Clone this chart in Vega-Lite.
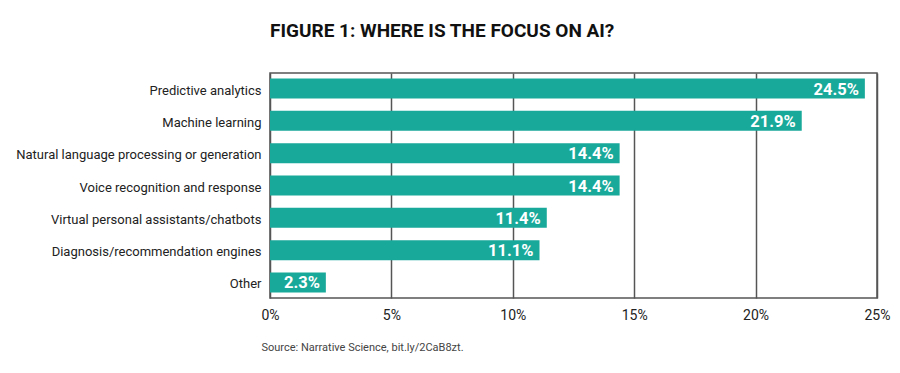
{
  "$schema": "https://vega.github.io/schema/vega-lite/v6.json",
  "autosize": {"type": "none"},
  "padding": {"left": 270, "top": 73, "right": 23, "bottom": 75},
  "width": 607,
  "height": 225,
  "background": "white",
  "title": {
    "text": "FIGURE 1: WHERE IS THE FOCUS ON AI?",
    "anchor": "start",
    "frame": "group",
    "font": "Roboto",
    "fontWeight": "bold",
    "fontSize": 19,
    "color": "#111111",
    "offset": 32
  },
  "data": {
    "values": [
      {"category": "Predictive analytics", "value": 24.5, "label": "24.5%"},
      {"category": "Machine learning", "value": 21.9, "label": "21.9%"},
      {"category": "Natural language processing or generation", "value": 14.4, "label": "14.4%"},
      {"category": "Voice recognition and response", "value": 14.4, "label": "14.4%"},
      {"category": "Virtual personal assistants/chatbots", "value": 11.4, "label": "11.4%"},
      {"category": "Diagnosis/recommendation engines", "value": 11.1, "label": "11.1%"},
      {"category": "Other", "value": 2.3, "label": "2.3%"}
    ]
  },
  "config": {
    "view": {"stroke": "#555555", "strokeWidth": 1.5},
    "font": "Roboto"
  },
  "encoding": {
    "y": {
      "field": "category",
      "type": "nominal",
      "sort": null,
      "scale": {"paddingInner": 0.38, "paddingOuter": 0.17},
      "axis": {
        "title": null,
        "domain": false,
        "ticks": false,
        "labelPadding": 9,
        "labelOffset": 2,
        "labelFontSize": 13,
        "labelColor": "#222222",
        "labelFont": "Roboto",
        "labelLimit": 300
      }
    },
    "x": {
      "field": "value",
      "type": "quantitative",
      "scale": {"domain": [0, 25], "nice": false, "zero": true},
      "axis": {
        "values": [0, 5, 10, 15, 20, 25],
        "labelExpr": "datum.value + '%'",
        "labelFlush": false,
        "domain": false,
        "ticks": false,
        "grid": true,
        "gridColor": "#555555",
        "gridWidth": 1.5,
        "gridOpacity": 1,
        "labelFontSize": 14,
        "labelColor": "#222222",
        "labelFont": "Roboto",
        "labelPadding": 10,
        "title": "Source: Narrative Science, bit.ly/2CaB8zt.",
        "titleFont": "Roboto",
        "titleFontSize": 11,
        "titleFontWeight": "normal",
        "titleColor": "#444444",
        "titleAnchor": "start",
        "titleAlign": "left",
        "titleBaseline": "alphabetic",
        "titleX": -9,
        "titleY": 52
      }
    }
  },
  "layer": [
    {"mark": {"type": "bar", "color": "#19a99a"}},
    {
      "mark": {
        "type": "text",
        "align": "right",
        "baseline": "middle",
        "dx": -6,
        "dy": 1,
        "color": "white",
        "fontWeight": "bold",
        "fontSize": 16.5,
        "font": "Roboto"
      },
      "encoding": {"text": {"field": "label"}}
    }
  ]
}
